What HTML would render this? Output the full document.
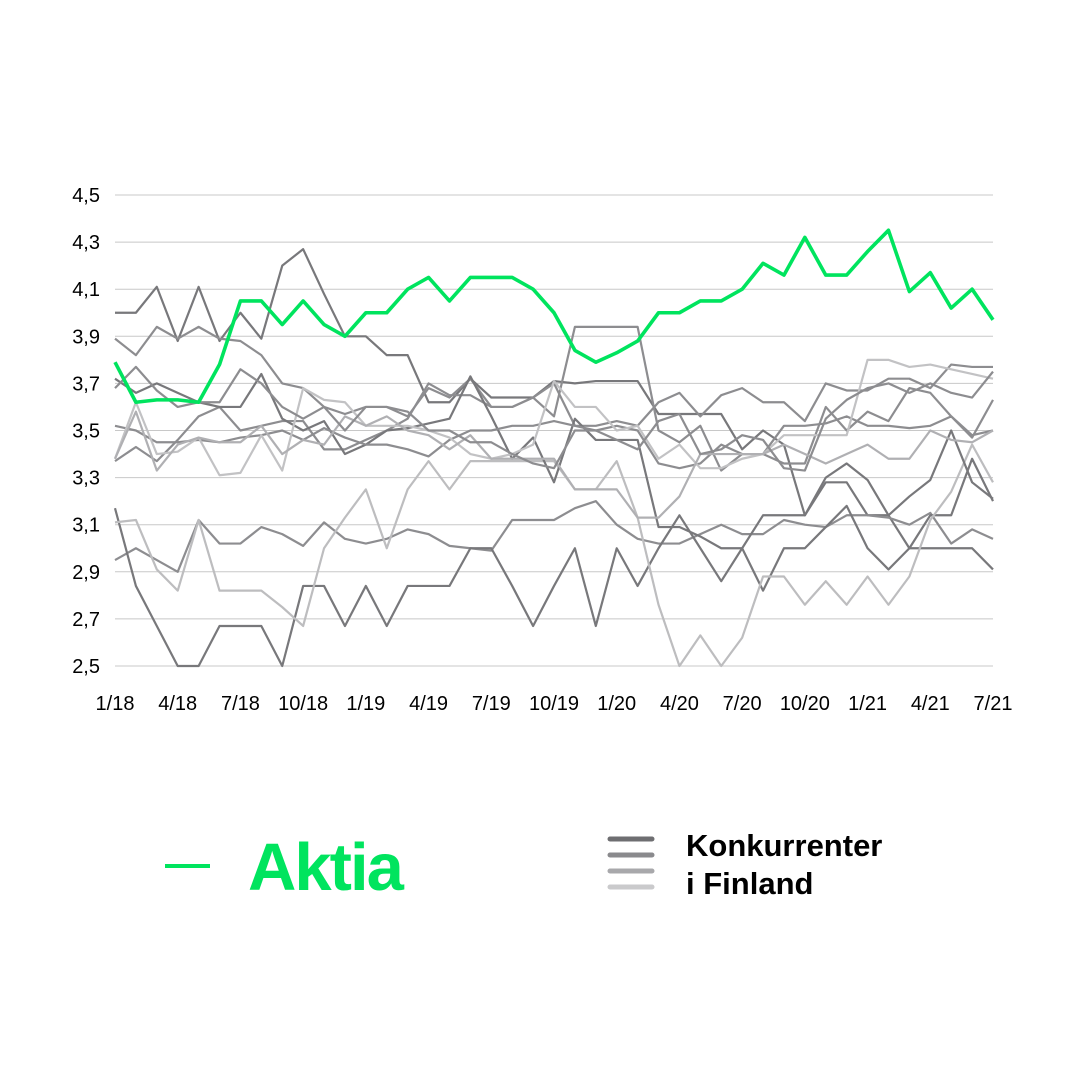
<!DOCTYPE html>
<html><head><meta charset="utf-8"><style>
body{margin:0;background:#fff;width:1080px;height:1080px;overflow:hidden;font-family:"Liberation Sans",sans-serif}
</style></head><body>
<svg width="1080" height="1080" id="chart">
<g id="grid"></g>
<g id="lines"></g>
<g id="axes"></g>
<g>
<line x1="165" y1="866" x2="210" y2="866" stroke="#00e45e" stroke-width="4"/>
<text x="248" y="890" font-size="67" font-weight="bold" fill="#00e45e" style="letter-spacing:-2px">Aktia</text>
</g>
<g>
<line x1="610" y1="839" x2="652" y2="839" stroke="#6e6e71" stroke-width="5" stroke-linecap="round"/>
<line x1="610" y1="855" x2="652" y2="855" stroke="#8a8a8d" stroke-width="5" stroke-linecap="round"/>
<line x1="610" y1="871" x2="652" y2="871" stroke="#a8a8ab" stroke-width="5" stroke-linecap="round"/>
<line x1="610" y1="887" x2="652" y2="887" stroke="#cacacc" stroke-width="5" stroke-linecap="round"/>
<text x="686" y="856" font-size="31" font-weight="bold" fill="#000">Konkurrenter</text>
<text x="686" y="894" font-size="31" font-weight="bold" fill="#000">i Finland</text>
</g>
</svg>
<script>
const yTicks=["2,5","2,7","2,9","3,1","3,3","3,5","3,7","3,9","4,1","4,3","4,5"];
const yTickValues=[2.5,2.7,2.9,3.1,3.3,3.5,3.7,3.9,4.1,4.3,4.5];
const xTicks=["1/18","4/18","7/18","10/18","1/19","4/19","7/19","10/19","1/20","4/20","7/20","10/20","1/21","4/21","7/21"];
const aktia=[3.79,3.62,3.63,3.63,3.62,3.78,4.05,4.05,3.95,4.05,3.95,3.90,4.00,4.00,4.10,4.15,4.05,4.15,4.15,4.15,4.10,4.00,3.84,3.79,3.83,3.88,4.00,4.00,4.05,4.05,4.10,4.21,4.16,4.32,4.16,4.16,4.26,4.35,4.09,4.17,4.02,4.10,3.97];
const g1=[4.0,4.0,4.11,3.88,4.11,3.88,4.0,3.89,4.2,4.27,4.08,3.9,3.9,3.82,3.82,3.62,3.62,3.72,3.64,3.64,3.64,3.71,3.70,3.71,3.71,3.71,3.57,3.57,3.57,3.57,3.42,3.50,3.44,3.14,3.28,3.28,3.14,3.14,3.0,3.0,3.0,3.0,2.91];
const g2=[3.89,3.82,3.94,3.89,3.94,3.89,3.88,3.82,3.70,3.68,3.60,3.57,3.60,3.60,3.56,3.68,3.64,3.72,3.60,3.60,3.64,3.56,3.94,3.94,3.94,3.94,3.50,3.45,3.52,3.33,3.40,3.40,3.36,3.36,3.60,3.50,3.58,3.54,3.68,3.66,3.56,3.47,3.63];
const g3=[2.95,3.0,2.95,2.90,3.12,3.02,3.02,3.09,3.06,3.01,3.11,3.04,3.02,3.04,3.08,3.06,3.01,3.00,2.99,3.12,3.12,3.12,3.17,3.20,3.10,3.04,3.02,3.02,3.06,3.10,3.06,3.06,3.12,3.10,3.09,3.14,3.14,3.13,3.10,3.15,3.02,3.08,3.04];
const g4=[3.17,2.84,2.67,2.50,2.50,2.67,2.67,2.67,2.50,2.84,2.84,2.67,2.84,2.67,2.84,2.84,2.84,3.00,3.00,2.84,2.67,2.84,3.00,2.67,3.00,2.84,3.00,3.14,3.00,2.86,3.00,2.82,3.00,3.00,3.09,3.18,3.00,2.91,3.00,3.14,3.14,3.38,3.20];
const g5=[3.11,3.12,2.91,2.82,3.12,2.82,2.82,2.82,2.75,2.67,3.00,3.13,3.25,3.00,3.25,3.37,3.25,3.37,3.37,3.37,3.37,3.37,3.25,3.25,3.37,3.13,2.76,2.50,2.63,2.50,2.62,2.88,2.88,2.76,2.86,2.76,2.88,2.76,2.88,3.12,3.24,3.44,3.28];
const g6=[3.37,3.43,3.37,3.46,3.56,3.60,3.50,3.52,3.54,3.54,3.42,3.42,3.46,3.50,3.55,3.70,3.65,3.65,3.60,3.60,3.64,3.70,3.52,3.52,3.54,3.52,3.62,3.66,3.56,3.65,3.68,3.62,3.62,3.54,3.70,3.67,3.67,3.72,3.72,3.68,3.78,3.77,3.77];
const g7=[3.72,3.66,3.70,3.66,3.62,3.60,3.60,3.74,3.55,3.50,3.54,3.40,3.44,3.50,3.51,3.53,3.55,3.73,3.56,3.38,3.47,3.28,3.55,3.46,3.46,3.46,3.09,3.09,3.05,3.00,3.00,3.14,3.14,3.14,3.30,3.36,3.29,3.14,3.22,3.29,3.50,3.28,3.21];
const g8=[3.52,3.50,3.45,3.45,3.46,3.45,3.47,3.48,3.50,3.46,3.51,3.47,3.44,3.44,3.42,3.39,3.46,3.50,3.50,3.52,3.52,3.54,3.52,3.50,3.52,3.50,3.36,3.34,3.36,3.44,3.40,3.40,3.52,3.52,3.53,3.56,3.52,3.52,3.51,3.52,3.56,3.48,3.50];
const g9=[3.38,3.62,3.40,3.41,3.47,3.31,3.32,3.48,3.33,3.68,3.63,3.62,3.52,3.52,3.52,3.50,3.47,3.40,3.38,3.40,3.44,3.71,3.60,3.60,3.50,3.52,3.38,3.44,3.34,3.34,3.38,3.40,3.48,3.48,3.48,3.48,3.80,3.80,3.77,3.78,3.76,3.74,3.72];
const g10=[3.38,3.58,3.33,3.44,3.47,3.45,3.45,3.52,3.40,3.46,3.44,3.56,3.52,3.56,3.50,3.48,3.42,3.48,3.38,3.38,3.38,3.38,3.25,3.25,3.25,3.13,3.13,3.22,3.40,3.40,3.40,3.40,3.44,3.40,3.36,3.40,3.44,3.38,3.38,3.50,3.46,3.45,3.50];
const g11=[3.68,3.77,3.67,3.60,3.62,3.62,3.76,3.70,3.60,3.55,3.60,3.50,3.60,3.60,3.58,3.50,3.50,3.45,3.45,3.40,3.36,3.34,3.50,3.50,3.46,3.42,3.54,3.57,3.40,3.42,3.48,3.46,3.34,3.33,3.55,3.63,3.68,3.70,3.66,3.70,3.66,3.64,3.75];

const NS="http://www.w3.org/2000/svg";
const X0=115,X1=993,Y0=666,Y1=195,VMIN=2.5,VMAX=4.5,N=aktia.length;
const xS=i=>X0+(X1-X0)*i/(N-1);
const yS=v=>Y0-(v-VMIN)/(VMAX-VMIN)*(Y0-Y1);
const grid=document.getElementById('grid'),axes=document.getElementById('axes'),lines=document.getElementById('lines');
yTickValues.forEach((v,k)=>{
  const l=document.createElementNS(NS,'line');
  l.setAttribute('x1',X0);l.setAttribute('x2',X1);l.setAttribute('y1',yS(v));l.setAttribute('y2',yS(v));
  l.setAttribute('stroke','#c8c8c8');l.setAttribute('stroke-width','1');
  
  
  grid.appendChild(l);
  const t=document.createElementNS(NS,'text');
  t.setAttribute('x',100);t.setAttribute('y',yS(v)+7);t.setAttribute('text-anchor','end');t.setAttribute('font-size','20');
  t.textContent=yTicks[k];
  
  
  axes.appendChild(t);
});
xTicks.forEach((s,k)=>{
  const t=document.createElementNS(NS,'text');
  t.setAttribute('x',xS(k*3));t.setAttribute('y',710);t.setAttribute('text-anchor','middle');t.setAttribute('font-size','20');
  t.textContent=s;
  
  
  axes.appendChild(t);
});
const greys=[[g1,'#78787b'],[g2,'#8d8d90'],[g3,'#8d8d90'],[g4,'#78787b'],[g5,'#bdbdbf'],[g6,'#8d8d90'],[g7,'#78787b'],[g8,'#8d8d90'],[g9,'#c2c2c4'],[g10,'#b0b0b3'],[g11,'#8d8d90']];
function draw(arr,col,w,name){
  const p=document.createElementNS(NS,'polyline');
  p.setAttribute('points',arr.map((v,i)=>xS(i)+','+yS(v)).join(' '));
  p.setAttribute('fill','none');p.setAttribute('stroke',col);p.setAttribute('stroke-width',w);p.setAttribute('stroke-linejoin','round');
  
  
  lines.appendChild(p);
}
greys.forEach((g,k)=>draw(g[0],g[1],2.2,'competitor-line'));
draw(aktia,'#00e45e',3.6,'aktia-line');
</script>
</body></html>
